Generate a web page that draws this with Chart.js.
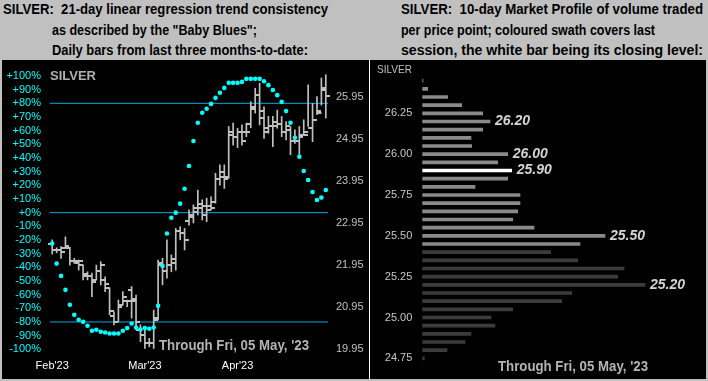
<!DOCTYPE html>
<html><head><meta charset="utf-8">
<script src="https://cdn.jsdelivr.net/npm/chart.js@4.4.0/dist/chart.umd.min.js"></script>
<style>
html,body{margin:0;padding:0;background:#c0c0c0;width:708px;height:381px;overflow:hidden;position:relative;font-family:"Liberation Sans",Arial,sans-serif;}
.t{position:absolute;white-space:nowrap;font-weight:bold;font-size:14px;line-height:14px;color:#000;transform-origin:0 0;}
.o{position:absolute;white-space:nowrap;transform-origin:0 0;line-height:14px;}
#lp{position:absolute;left:2px;top:60px;width:367px;height:319px;background:#000;}
#sep{position:absolute;left:369px;top:60px;width:1px;height:319px;background:#fff;}
#rp{position:absolute;left:370px;top:60px;width:336px;height:319px;background:#000;}
canvas{display:block;position:absolute;left:0;top:0;}
</style></head><body>
<div class="t" style="left:3px;top:2px" data-w="325">SILVER:&nbsp; 21-day linear regression trend consistency</div>
<div class="t" style="left:52px;top:23px" data-w="205">as described by the "Baby Blues";</div>
<div class="t" style="left:52px;top:43px" data-w="256">Daily bars from last three months-to-date:</div>
<div class="t" style="left:401px;top:2px" data-w="302">SILVER:&nbsp; 10-day Market Profile of volume traded</div>
<div class="t" style="left:401px;top:23px" data-w="254">per price point; coloured swath covers last</div>
<div class="t" style="left:401px;top:43px" data-w="302">session, the white bar being its closing level:</div>
<div id="lp"><canvas id="cl" width="367" height="319"></canvas></div>
<div id="sep"></div>
<div id="rp"><canvas id="cr" width="336" height="319"></canvas></div>
<div class="o" style="left:50px;top:69px;font-weight:bold;font-size:13px;color:#b0b0b0" data-w="46">SILVER</div>
<div class="o" style="left:159px;top:338px;font-weight:bold;font-size:14px;color:#b4b4b4" data-w="150">Through Fri, 05 May, '23</div>
<div class="o" style="left:377px;top:62px;font-size:11px;color:#c0c0c0" data-w="35">SILVER</div>
<div class="o" style="left:498px;top:359px;font-weight:bold;font-size:14px;color:#b4b4b4" data-w="150">Through Fri, 05 May, '23</div>
<script>
// ---------- Left panel data (daily bars, Feb..May 2023) ----------
const MONTH_LABELS = ["Feb'23", "Mar'23", "Apr'23"];
const MONTH_AT = [0, 21, 42];
const PRICE_TICKS = [19.95, 20.95, 21.95, 22.95, 23.95, 24.95, 25.95];
const PCT_LINES = [80, 0, -80];
const OPEN  = [22.45,22.30,22.30,22.35,22.35,22.05,22.00,21.95,21.70,21.70,21.60,21.80,21.60,21.40,20.75,20.60,21.00,21.10,21.35,21.10,20.40,20.30,20.10,20.10,20.70,22.00,21.80,21.95,22.00,22.75,22.70,23.00,23.10,23.30,23.30,23.35,23.35,23.45,24.00,24.05,24.05,25.10,25.00,25.10,25.10,25.30,25.70,26.00,25.45,25.20,25.25,25.35,25.30,25.10,25.15,24.90,24.90,25.05,25.10,25.20,25.40,25.55,26.10];
const HIGH  = [22.55,22.36,22.39,22.62,22.37,22.11,22.07,21.95,21.79,21.76,21.95,22.03,21.67,21.41,20.84,21.12,21.32,21.12,21.44,21.24,20.53,20.45,20.21,20.88,22.07,22.11,22.55,22.19,22.82,22.86,22.82,23.26,23.38,23.73,23.50,23.54,23.57,24.13,24.33,24.33,25.24,25.32,25.20,25.28,25.32,25.83,26.15,26.27,25.71,25.48,25.48,25.63,25.48,25.36,25.24,25.16,25.24,25.40,26.23,25.79,25.95,26.39,26.47];
const LOW   = [22.21,22.24,22.11,22.35,21.95,21.99,21.83,21.60,21.60,21.20,21.60,21.48,21.32,20.77,20.53,20.61,21.00,20.96,20.69,20.41,20.13,19.97,20.01,19.97,20.65,21.48,21.64,21.79,21.83,22.55,22.31,22.90,22.95,23.14,23.02,22.98,23.26,23.42,23.85,23.77,24.01,24.80,24.74,24.80,25.00,25.21,25.56,25.28,24.96,25.08,24.76,25.20,25.00,24.92,24.57,24.84,24.57,25.04,25.24,24.88,25.52,25.75,25.44];
const CLOSE = [22.30,22.30,22.25,22.40,22.05,22.05,22.05,21.75,21.70,21.55,21.80,21.95,21.50,20.85,20.60,20.95,21.20,21.10,21.15,20.60,20.30,20.10,20.10,20.65,21.95,21.80,21.95,22.10,22.75,22.70,22.55,23.15,23.20,23.40,23.15,23.25,23.30,24.00,24.15,24.00,25.05,25.00,25.10,24.90,25.10,25.65,26.00,25.60,25.10,25.25,25.25,25.30,25.10,25.25,24.90,24.90,25.00,25.05,25.20,25.40,25.60,26.15,25.97];
const BABY_BLUES = [-22.6,-37.3,-46.3,-56.5,-67.4,-74.8,-78.4,-79.9,-82.8,-86.4,-85.7,-87.2,-87.7,-88.4,-88.4,-88.4,-86.4,-84.5,-81.1,-84.0,-85.5,-84.5,-85.0,-84.0,-68.2,-39.0,-15.3,-3.7,0.0,6.6,17.5,34.1,52.4,65.8,73.1,76.0,79.6,84.0,87.7,91.3,95.0,95.0,95.0,95.7,97.9,97.9,97.9,97.9,96.2,93.3,89.7,86.0,81.1,74.3,65.8,54.8,40.9,30.5,23.9,15.1,9.3,11.0,16.6];

// ---------- Right panel data (10-day market profile) ----------
const PROFILE_PRICES = [26.45,26.40,26.35,26.30,26.25,26.20,26.15,26.10,26.05,26.00,25.95,25.90,25.85,25.80,25.75,25.70,25.65,25.60,25.55,25.50,25.45,25.40,25.35,25.30,25.25,25.20,25.15,25.10,25.05,25.00,24.95,24.90,24.85,24.80,24.75];
const PROFILE_VOLUME = [0.7,5.4,25.4,39.4,60.4,67.7,60.4,48.7,49.4,85.4,75.4,89.4,85.4,52.7,97.7,97.7,95.4,90.4,111.7,182.7,157.7,128.4,155.4,201.7,195.4,222.7,149.4,139.4,90.4,68.7,72.7,48.7,42.7,24.7,2.0];
const PROFILE_TICK_LABELS = ["26.25","26.00","25.75","25.50","25.25","25.00","24.75"];
const LAST_SESSION_HIGH = 26.45, LAST_SESSION_LOW = 25.45, LAST_CLOSE = 25.90;
const MARKED_LEVELS = [26.20, 26.00, 25.90, 25.50, 25.20];

// ---------- text fitting ----------
document.querySelectorAll('[data-w]').forEach(el => {
  const w = el.getBoundingClientRect().width;
  const target = parseFloat(el.dataset.w);
  if (w > 0) el.style.transform = 'scaleX(' + (target / w) + ')';
});

function tickImg(side) {
  const c = document.createElement('canvas');
  c.width = 8; c.height = 2;
  const g = c.getContext('2d');
  g.fillStyle = '#c0c0c0';
  if (side === 'L') g.fillRect(0, 0, 4, 2); else g.fillRect(4, 0, 4, 2);
  return c;
}

const idx = HIGH.map((_, i) => i);
const FONT = {family: '"Liberation Sans", Arial, sans-serif', size: 11};
const xMin = -0.5, xMax = HIGH.length - 0.5;

const lineSets = PCT_LINES.map(v => ({
  type: 'line', data: [{x: xMin, y: v}, {x: xMax, y: v}], borderColor: '#00a8e0', borderWidth: 1,
  pointRadius: 0, yAxisID: 'yT', order: 5, clip: false
}));

new Chart(document.getElementById('cl'), {
  type: 'bar',
  data: {datasets: [
    ...lineSets,
    {type: 'bar', data: idx.map(i => ({x: i, y: [LOW[i], HIGH[i]]})), backgroundColor: '#c0c0c0',
     barThickness: 1, borderWidth: 0, yAxisID: 'yP', order: 4, clip: false},
    {type: 'scatter', data: idx.map(i => ({x: i, y: OPEN[i]})), pointStyle: tickImg('L'), yAxisID: 'yP', order: 3, clip: false},
    {type: 'scatter', data: idx.map(i => ({x: i, y: CLOSE[i]})), pointStyle: tickImg('R'), yAxisID: 'yP', order: 2, clip: false},
    {type: 'scatter', data: idx.map(i => ({x: i, y: BABY_BLUES[i]})), pointRadius: 2.3, pointBackgroundColor: '#00ffff',
     pointBorderWidth: 0, yAxisID: 'yT', order: 1, clip: false}
  ]},
  options: {
    responsive: false, animation: false, events: [],
    layout: {padding: {top: 16, left: 0, right: 0, bottom: 0}},
    plugins: {legend: {display: false}, tooltip: {enabled: false}},
    scales: {
      x: {type: 'linear', min: xMin, max: xMax, offset: false,
          afterBuildTicks: s => { s.ticks = MONTH_AT.map(v => ({value: v})); },
          ticks: {callback: v => MONTH_LABELS[MONTH_AT.indexOf(v)], color: '#ffffff', font: FONT, padding: 10, autoSkip: false, maxRotation: 0},
          grid: {display: false, drawTicks: false, offset: false}, border: {display: false},
          afterFit: s => { s.height = 29.7; }},
      yT: {position: 'left', min: -100, max: 100,
           ticks: {stepSize: 10, callback: v => (v >= 0 ? '+' : '') + v + '%', color: '#00ffff', font: FONT, padding: 9, autoSkip: false},
           grid: {display: false, drawTicks: false}, border: {display: false},
           afterFit: s => { s.width = 48; }},
      yP: {position: 'right', min: 19.95, max: 26.44,
           afterBuildTicks: s => { s.ticks = PRICE_TICKS.map(v => ({value: v})); },
           ticks: {callback: v => v.toFixed(2), color: '#c0c0c0', font: FONT, padding: 8, autoSkip: false},
           grid: {display: false, drawTicks: false}, border: {display: false},
           afterFit: s => { s.width = 41; }}
    }
  }
});

const levelLabels = {
  id: 'levelLabels',
  afterDatasetsDraw(chart) {
    const meta = chart.getDatasetMeta(0);
    const ctx = chart.ctx;
    ctx.save();
    ctx.font = 'italic bold 14px "Liberation Sans", Arial, sans-serif';
    ctx.fillStyle = '#d4d4d4';
    ctx.textBaseline = 'middle';
    MARKED_LEVELS.forEach(p => {
      const i = PROFILE_PRICES.findIndex(q => Math.abs(q - p) < 1e-6);
      const el = meta.data[i];
      ctx.fillText(p.toFixed(2), el.x + 5, el.y);
    });
    ctx.restore();
  }
};

new Chart(document.getElementById('cr'), {
  type: 'bar',
  data: {labels: PROFILE_PRICES.map(p => p.toFixed(2)),
         datasets: [{data: PROFILE_VOLUME,
           backgroundColor: PROFILE_PRICES.map(p => Math.abs(p - LAST_CLOSE) < 1e-6 ? '#ffffff' :
             (p <= LAST_SESSION_HIGH + 1e-6 && p >= LAST_SESSION_LOW - 1e-6 ? '#8a8a8a' : '#3c3c3c')),
           barThickness: 3, borderWidth: 0}]},
  options: {
    indexAxis: 'y', responsive: false, animation: false, events: [],
    layout: {padding: {top: 13, bottom: 4, right: 6, left: 0}},
    plugins: {legend: {display: false}, tooltip: {enabled: false}},
    scales: {
      x: {display: false, min: 0, max: 277.7},
      y: {ticks: {callback: function(v) { const l = this.getLabelForValue(v); return PROFILE_TICK_LABELS.includes(l) ? l : ''; },
                  color: '#c8c8c8', font: FONT, padding: 10, autoSkip: false},
          grid: {display: false, drawTicks: false}, border: {display: false},
          afterFit: s => { s.width = 52.3; }}
    }
  },
  plugins: [levelLabels]
});
</script>
</body></html>
